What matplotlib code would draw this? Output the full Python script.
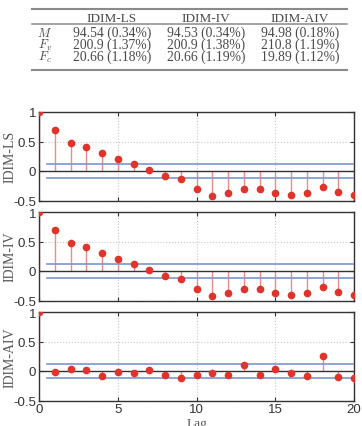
import matplotlib
matplotlib.use("Agg")
import matplotlib.pyplot as plt
import numpy as np

plt.rcParams['axes.unicode_minus'] = False
plt.rcParams['mathtext.fontset'] = 'cm'

# table data
col_names = ["IDIM-LS", "IDIM-IV", "IDIM-AIV"]
row_names = [r"$M$", r"$F_v$", r"$F_c$"]
table_vals = [
    ["94.54 (0.34%)", "94.53 (0.34%)", "94.98 (0.18%)"],
    ["200.9 (1.37%)", "200.9 (1.38%)", "210.8 (1.19%)"],
    ["20.66 (1.18%)", "20.66 (1.19%)", "19.89 (1.12%)"],
]

# autocorrelation of residuals
lags = list(range(21))
acf_ls = [1.0, 0.70, 0.47, 0.40, 0.30, 0.21, 0.12, 0.01, -0.08, -0.13, -0.31,
          -0.42, -0.38, -0.30, -0.31, -0.37, -0.41, -0.37, -0.27, -0.35, -0.40]
acf_iv = [1.0, 0.70, 0.47, 0.40, 0.30, 0.21, 0.12, 0.01, -0.08, -0.13, -0.31,
          -0.42, -0.38, -0.30, -0.31, -0.37, -0.41, -0.37, -0.27, -0.35, -0.40]
acf_aiv = [1.0, -0.01, 0.03, 0.01, -0.08, -0.01, -0.04, 0.02, -0.06, -0.12, -0.07,
           -0.03, -0.07, 0.11, -0.06, 0.03, -0.03, -0.08, 0.26, -0.10, -0.12]
conf = 0.125
panel_labels = ["IDIM-LS", "IDIM-IV", "IDIM-AIV"]

W, H = 362, 427
fig = plt.figure(figsize=(W / 100, H / 100), dpi=100)

# ---- table drawn on a blank axes ----
tax = fig.add_axes([0, 0, 1, 1])
tax.set_xlim(0, W)
tax.set_ylim(H, 0)
tax.axis('off')
RULE = "#8a8a8a"
TXT = "#4a4a4a"
tax.plot([32, 347], [10, 10], color=RULE, lw=1.5)
tax.plot([32, 347], [25, 25], color=RULE, lw=1.1)
tax.plot([32, 347], [70.5, 70.5], color=RULE, lw=1.5)
col_x = [112, 206, 300]
for cx, name in zip(col_x, col_names):
    tax.text(cx, 21.5, name, ha='center', va='baseline', fontsize=9.5,
             family='Liberation Serif', color=TXT)
row_y = [37, 49, 61]
for ry, rn, vals in zip(row_y, row_names, table_vals):
    tax.text(45, ry, rn, ha='center', va='baseline', fontsize=9, color=TXT)
    for cx, v in zip(col_x, vals):
        tax.text(cx, ry, v, ha='center', va='baseline', fontsize=9.8,
                 family='Liberation Serif', color=TXT)

# ---- three autocorrelation panels ----
left = 39 / W
width = (354 - 39) / W
tops = [113, 213, 313]
ph = 88.5
series = [acf_ls, acf_iv, acf_aiv]
for i, (top, vals, lab) in enumerate(zip(tops, series, panel_labels)):
    ax = fig.add_axes([left, 1 - (top + ph) / H, width, ph / H])
    ax.grid(True, linestyle=':', color='#c8c8c8', lw=0.8)
    ax.set_axisbelow(True)
    ml, sl, bl = ax.stem(lags, vals, basefmt=' ')
    plt.setp(sl, color='#f08a8a', lw=1.0)
    plt.setp(ml, color='#e2332b', markersize=4.5, zorder=4)
    ax.axhline(0, color='#333333', lw=1.0, zorder=3)
    ax.plot([0.5, 20], [conf, conf], color='#7c95cf', lw=1.2, zorder=3)
    ax.plot([0.5, 20], [-conf, -conf], color='#7c95cf', lw=1.2, zorder=3)
    ax.set_xlim(0, 20)
    ax.set_ylim(-0.5, 1)
    ax.set_yticks([-0.5, 0, 0.5, 1])
    ax.set_yticklabels(["-0.5", "0", "0.5", "1"])
    ax.set_xticks([0, 5, 10, 15, 20])
    ax.tick_params(direction='in', length=3, labelsize=9.5, colors='#333333',
                   top=True, right=True)
    ax.tick_params(axis='y', pad=2)
    ax.tick_params(axis='x', pad=2)
    for t in ax.get_xticklabels() + ax.get_yticklabels():
        t.set_family('Liberation Sans')
    for s in ax.spines.values():
        s.set_color('#333333')
        s.set_linewidth(1.0)
    ax.set_ylabel(lab, family='Liberation Serif', fontsize=10, color='#555555')
    ax.yaxis.set_label_coords(-0.072, 0.5)
    if i < 2:
        ax.set_xticklabels([])
    else:
        ax.set_xlabel("Lag", family='Liberation Serif', fontsize=9.5,
                      color='#555555', labelpad=1)

fig.savefig("out.png", dpi=100)
